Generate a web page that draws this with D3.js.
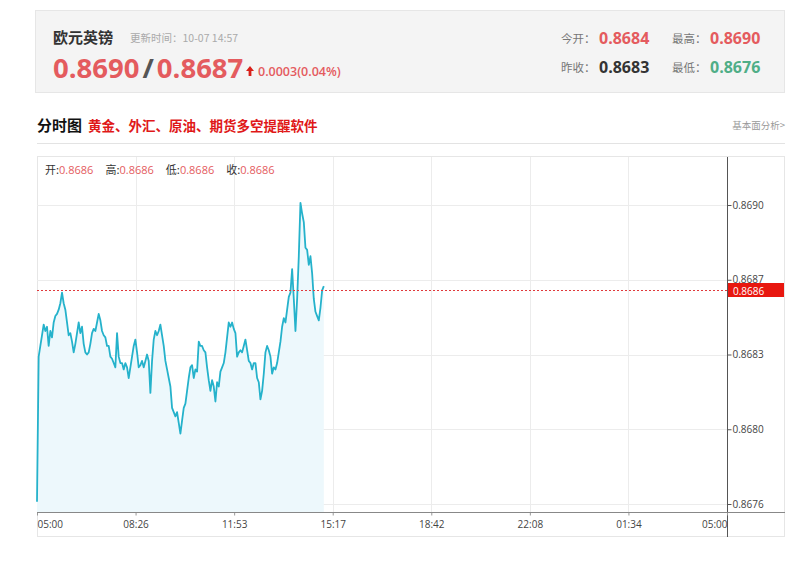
<!DOCTYPE html>
<html><head><meta charset="utf-8">
<script src="https://cdn.jsdelivr.net/npm/d3@7/dist/d3.min.js"></script>
<style>
body{margin:0;background:#fff;}
svg{display:block;font-family:"Open Sans","Noto Sans CJK SC",sans-serif;}
</style></head>
<body><svg id="c" width="800" height="563"></svg>
<script>
// ---- data ----
const startTime = "05:00";
const stepMinutes = 3.48;           // sampling interval of the intraday series
const prices = [
0.86761,
0.86829,0.86834,0.86839,0.86844,0.86841,0.86843,0.86834,0.86841,0.86838,0.86845,
0.86848,0.86849,0.86851,0.86854,0.86859,0.86854,0.86851,0.86845,0.86839,0.86840,
0.86836,0.86831,0.86835,0.86840,0.86845,0.86840,0.86843,0.86835,0.86831,0.86830,
0.86831,0.86835,0.86840,0.86842,0.86841,0.86845,0.86849,0.86846,0.86841,0.86839,
0.86838,0.86834,0.86834,0.86829,0.86828,0.86826,0.86824,0.86840,0.86829,0.86826,
0.86826,0.86823,0.86826,0.86824,0.86819,0.86824,0.86829,0.86834,0.86837,0.86831,
0.86824,0.86825,0.86827,0.86824,0.86827,0.86830,0.86827,0.86812,0.86827,0.86837,
0.86841,0.86839,0.86841,0.86844,0.86839,0.86834,0.86827,0.86823,0.86819,0.86815,
0.86805,0.86803,0.86801,0.86803,0.86798,0.86793,0.86799,0.86805,0.86807,
0.86813,0.86819,0.86824,0.86825,0.86819,0.86823,0.86822,0.86836,0.86834,0.86834,
0.86832,0.86831,0.86824,0.86818,0.86813,0.86818,0.86815,0.86808,0.86817,0.86815,
0.86822,0.86824,0.86826,0.86831,0.86838,0.86845,0.86843,0.86845,0.86842,0.86840,
0.86829,0.86831,0.86832,0.86831,0.86834,0.86837,0.86832,0.86827,0.86826,0.86823,
0.86826,0.86826,0.86819,0.86817,0.86809,0.86813,0.86821,0.86831,0.86834,0.86832,
0.86829,0.86821,0.86824,0.86823,0.86826,0.86831,0.86836,0.86843,0.86847,0.86845,
0.86851,0.86857,0.86859,0.86870,0.86856,0.86841,0.86856,0.86876,0.86901,0.86896,
0.86892,0.86880,0.86879,0.86872,0.86876,0.86868,0.86856,0.86850,0.86848,0.86846,
0.86852,0.86860,0.86862
];
const currentPrice = 0.8686;
const yTickValues = [0.8676, 0.86795, 0.8683, 0.86865, 0.8690];
const yTickLabels = ["0.8676", "0.8680", "0.8683", "0.8687", "0.8690"];
const xTickLabels = ["05:00", "08:26", "11:53", "15:17", "18:42", "22:08", "01:34", "05:00"];
const sessionMinutes = 1440;
const ohlcLabels = ["开:", "高:", "低:", "收:"];
const ohlcValues = ["0.8686", "0.8686", "0.8686", "0.8686"];
const headerTitle = "欧元英镑";
const updateText = "更新时间：10-07 14:57";
const bidAsk = ["0.8690", "0.8687"];
const change = "0.0003(0.04%)";
const statLabels = ["今开：", "最高：", "昨收：", "最低："];
const statValues = ["0.8684", "0.8690", "0.8683", "0.8676"];

// ---- drawing ----
const svg = d3.select("#c");
const red = "#e45b5e", cjk = '"Noto Sans CJK SC",sans-serif';

// header box
svg.append("rect").attr("x",35.5).attr("y",10.5).attr("width",749).attr("height",82)
  .attr("fill","#f4f4f4").attr("stroke","#e6e6e6");
svg.append("text").attr("x",53).attr("y",43).attr("font-family",cjk).attr("font-weight","bold")
  .attr("font-size",15).attr("fill","#333").text(headerTitle);
svg.append("text").attr("x",130).attr("y",42).attr("font-family",cjk)
  .attr("font-size",10.5).attr("fill","#aaa").text(updateText);
const big = svg.append("text").attr("x",53).attr("y",78).attr("font-size",27.5).attr("font-weight","bold");
big.append("tspan").attr("fill",red).text(bidAsk[0]);
big.append("tspan").attr("fill","#555").attr("dx",3).text("/");
big.append("tspan").attr("fill",red).attr("dx",3).text(bidAsk[1]);
// arrow
svg.append("path").attr("d","M250,66 l-4,5 h2.6 v5 h2.8 v-5 h2.6 z").attr("fill","#d9201a");
svg.append("text").attr("x",258).attr("y",76).attr("font-size",12.5).attr("font-weight","600")
  .attr("fill",red).text(change);
const statPos = [[561,599,44],[672,710,44],[561,599,73],[672,710,73]];
const statColors = [red, red, "#333", "#4fae87"];
statLabels.forEach((l,i)=>{
  svg.append("text").attr("x",statPos[i][0]).attr("y",statPos[i][2]-1).attr("font-family",cjk)
    .attr("font-size",11.5).attr("fill","#777").text(l);
  svg.append("text").attr("x",statPos[i][1]).attr("y",statPos[i][2]).attr("font-size",16)
    .attr("font-weight","bold").attr("fill",statColors[i]).text(statValues[i]);
});

// section title
svg.append("text").attr("x",37).attr("y",131).attr("font-family",cjk).attr("font-weight","bold")
  .attr("font-size",15).attr("fill","#111").text("分时图");
svg.append("text").attr("x",88).attr("y",131).attr("font-family",cjk).attr("font-weight","bold")
  .attr("font-size",13.5).attr("fill","#e01818").text("黄金、外汇、原油、期货多空提醒软件");
svg.append("text").attr("x",785).attr("y",129).attr("text-anchor","end").attr("font-family",cjk)
  .attr("font-size",9.5).attr("fill","#999").text("基本面分析>");
svg.append("line").attr("x1",37).attr("x2",785).attr("y1",143.5).attr("y2",143.5).attr("stroke","#e3e3e3");

// chart frame
svg.append("rect").attr("x",37.5).attr("y",156.5).attr("width",747).attr("height",380)
  .attr("fill","#fff").attr("stroke","#e6e6e6");

const x = d3.scaleLinear().domain([0, sessionMinutes]).range([37, 727]);
const y = d3.scaleLinear().domain([yTickValues[0], yTickValues[4]]).range([504, 205]);
const plotBottom = 512;

const xTickVals = xTickLabels.map((d,i)=> i*sessionMinutes/(xTickLabels.length-1));

// grid
svg.append("g").selectAll("line").data(yTickValues).join("line")
  .attr("x1",37).attr("x2",727).attr("y1",d=>Math.round(y(d))+0.5).attr("y2",d=>Math.round(y(d))+0.5)
  .attr("stroke","#ececec");
svg.append("g").selectAll("line").data(xTickVals.slice(1,-1)).join("line")
  .attr("x1",d=>Math.round(x(d))+0.5).attr("x2",d=>Math.round(x(d))+0.5).attr("y1",157).attr("y2",plotBottom)
  .attr("stroke","#ececec");

// data
const data = prices.map((p,i)=>({t:i*stepMinutes, p}));
const area = d3.area().x(d=>x(d.t)).y0(plotBottom).y1(d=>y(d.p));
const line = d3.line().x(d=>x(d.t)).y(d=>y(d.p));
svg.append("path").datum(data).attr("d",area).attr("fill","#edf8fc");
svg.append("path").datum(data).attr("d",line).attr("fill","none").attr("stroke","#25b2cb")
  .attr("stroke-width",1.8).attr("stroke-linejoin","round");

// current price dotted line
const cy = Math.round(y(currentPrice))+0.5;
svg.append("line").attr("x1",37).attr("x2",727).attr("y1",cy).attr("y2",cy)
  .attr("stroke","#e0393c").attr("stroke-width",1).attr("stroke-dasharray","2,2");

// right axis
const yAxis = d3.axisRight(y).tickValues(yTickValues).tickSize(4).tickFormat((d,i)=>yTickLabels[i]);
const ga = svg.append("g").attr("transform","translate(727.5,0)").call(yAxis);
ga.select(".domain").remove();
ga.selectAll(".tick line").attr("stroke","#555");
ga.selectAll(".tick text").attr("font-family","Open Sans, sans-serif").attr("font-size",10).attr("fill","#444").attr("x",5);
svg.append("line").attr("x1",727.5).attr("x2",727.5).attr("y1",157).attr("y2",537).attr("stroke","#555");

// bottom axis
const xAxis = d3.axisBottom(x).tickValues(xTickVals).tickSize(3).tickFormat((d,i)=>xTickLabels[i]);
const gx = svg.append("g").attr("transform",`translate(0,${plotBottom+0.5})`).call(xAxis);
gx.select(".domain").remove();
gx.selectAll(".tick line").attr("stroke","#999");
gx.selectAll(".tick text").attr("font-family","Open Sans, sans-serif").attr("font-size",10).attr("fill","#444").attr("dy","0.9em");
gx.selectAll(".tick text").filter((d,i)=>i===0).attr("text-anchor","start");
gx.selectAll(".tick text").filter((d,i)=>i===xTickLabels.length-1).attr("text-anchor","end");
svg.append("line").attr("x1",37).attr("x2",785).attr("y1",plotBottom+0.5).attr("y2",plotBottom+0.5).attr("stroke","#888");

// current price tag (covers the lower half of the 0.8687 label, as in the source)
svg.append("rect").attr("x",728).attr("y",cy-7.5).attr("width",56).attr("height",14).attr("fill","#e8170f");
svg.append("text").attr("x",733).attr("y",cy+4).attr("font-size",10).attr("fill","#fff").text(d3.format(".4f")(currentPrice));

// OHLC legend
const lg = svg.append("text").attr("x",45).attr("y",174).attr("font-size",11);
ohlcLabels.forEach((l,i)=>{
  lg.append("tspan").attr("font-family",cjk).attr("fill","#333").attr("dx",i?12:0).text(l);
  lg.append("tspan").attr("fill",red).text(ohlcValues[i]);
});
</script></body></html>
